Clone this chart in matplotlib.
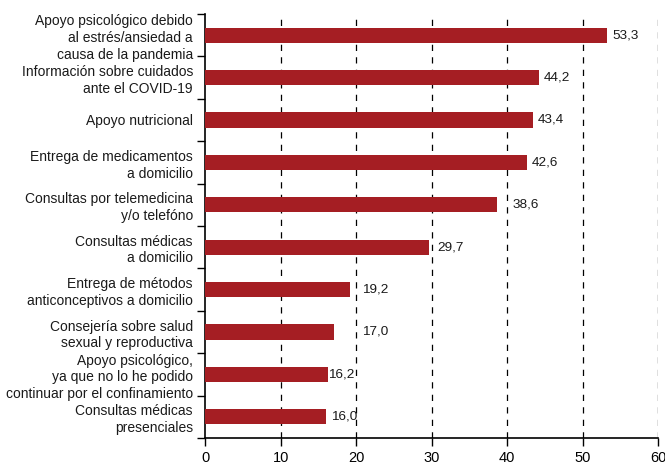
import matplotlib
matplotlib.use("Agg")

import matplotlib.pyplot as plt
import numpy as np

categories = [
    "Apoyo psicológico debido\nal estrés/ansiedad a\ncausa de la pandemia",
    "Información sobre cuidados\nante el COVID-19",
    "Apoyo nutricional",
    "Entrega de medicamentos\na domicilio",
    "Consultas por telemedicina\ny/o telefóno",
    "Consultas médicas\na domicilio",
    "Entrega de métodos\nanticonceptivos a domicilio",
    "Consejería sobre salud\nsexual y reproductiva",
    "Apoyo psicológico,\nya que no lo he podido\ncontinuar por el confinamiento",
    "Consultas médicas\npresenciales",
]
values = [53.3, 44.2, 43.4, 42.6, 38.6, 29.7, 19.2, 17.0, 16.2, 16.0]
x_ticks = [0, 10, 20, 30, 40, 50, 60]

plt.rcParams["font.family"] = ["Liberation Sans", "DejaVu Sans"]

fig = plt.figure(figsize=(6.65, 4.63), dpi=100)
ax = fig.add_axes([205.5 / 665, 25 / 463, (658 - 205.5) / 665, (438 - 14) / 463])

n = len(values)
y = np.arange(n)[::-1]

ax.barh(y, values, height=0.36, color="#A51E23", zorder=3)

# value labels: keep clear of the dashed grid lines
label_w = 3.4
for yi, v in zip(y, values):
    x0 = v + 0.6
    if any(v < g < x0 + label_w for g in x_ticks):
        x0 = v + 0.05
        if any(v < g < x0 + label_w for g in x_ticks):
            g = min(g for g in x_ticks if g > v)
            x0 = g + 0.7
    ax.text(x0, yi, f"{v:.1f}".replace(".", ","), va="center", ha="left",
            fontsize=9.7, color="#1a1a1a")

ax.set_xlim(0, 60)
ax.set_ylim(-0.5, n - 0.5)
ax.set_xticks(x_ticks)
ax.set_xticklabels([str(t) for t in x_ticks], fontsize=10.5)

ax.set_yticks(y)
ax.set_yticklabels(categories, fontsize=10, linespacing=1.25, color="#1a1a1a")
ax.tick_params(axis="y", which="major", length=0, pad=9)
ax.set_yticks(np.arange(n + 1) - 0.5, minor=True)
ax.tick_params(axis="y", which="minor", length=6, width=1, direction="out")
ax.tick_params(axis="x", length=6, width=1, direction="out")

for t in x_ticks[1:]:
    ax.axvline(t, color="black", linestyle=(0, (5, 5)), linewidth=0.9, zorder=1)

ax.spines["top"].set_visible(False)
ax.spines["right"].set_visible(False)
ax.spines["left"].set_linewidth(1.2)
ax.spines["bottom"].set_linewidth(1.2)

fig.savefig("out.png", dpi=100)
